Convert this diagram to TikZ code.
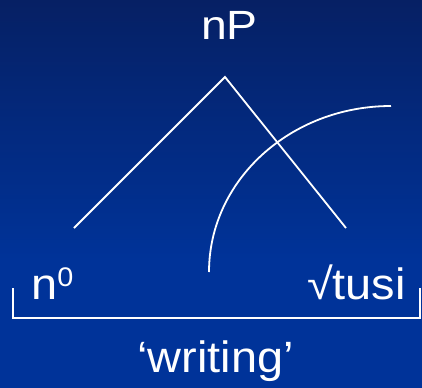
\documentclass[tikz,border=0pt]{standalone}
\usepackage{fontspec}
\setmainfont{Liberation Sans}
\definecolor{bgtop}{RGB}{6,32,100}
\definecolor{bgbot}{RGB}{0,51,153}
\tikzset{
  treeline/.style={draw=white, line width=1.8bp},
  lbl/.style={text=white, inner sep=0pt, xscale=1.07, font=\fontsize{44}{44}\selectfont},
}
\begin{document}
\begin{tikzpicture}[x=1bp, y=-1bp]
\useasboundingbox (0,0) rectangle (422,388);
\shade[top color=bgtop, bottom color=bgbot] (0,0) rectangle (422,260);
\fill[bgbot] (0,259.5) rectangle (422,388);
% labels
\node[lbl, anchor=base, xscale=1.06, font=\fontsize{41}{41}\selectfont] (nP) at (229.5,39) {nP};
\node[lbl, anchor=base west] (n0) at (31,299) {n\raisebox{13bp}{\fontsize{27}{27}\selectfont 0}};
\node[lbl, anchor=base east] (tusi) at (406,299) {√tusi};
\node[lbl, anchor=base] (writing) at (215.5,372) {‘writing’};
% tree
\coordinate (apex) at (225,77);
\coordinate (lend) at (74,228);
\coordinate (rend) at (346,228);
\draw[treeline] (lend) -- (apex) -- (rend);
% arc
\coordinate (arcS) at (209,272);
\coordinate (arcE) at (391,106);
\draw[treeline] (arcS) .. controls (209,180.3) and (290.5,106) .. (arcE);
% bracket
\coordinate (bl) at (13,288);
\coordinate (br) at (420,288);
\draw[treeline] (bl) -- (13,318) -- (420,318) -- (br);
\end{tikzpicture}
\end{document}
